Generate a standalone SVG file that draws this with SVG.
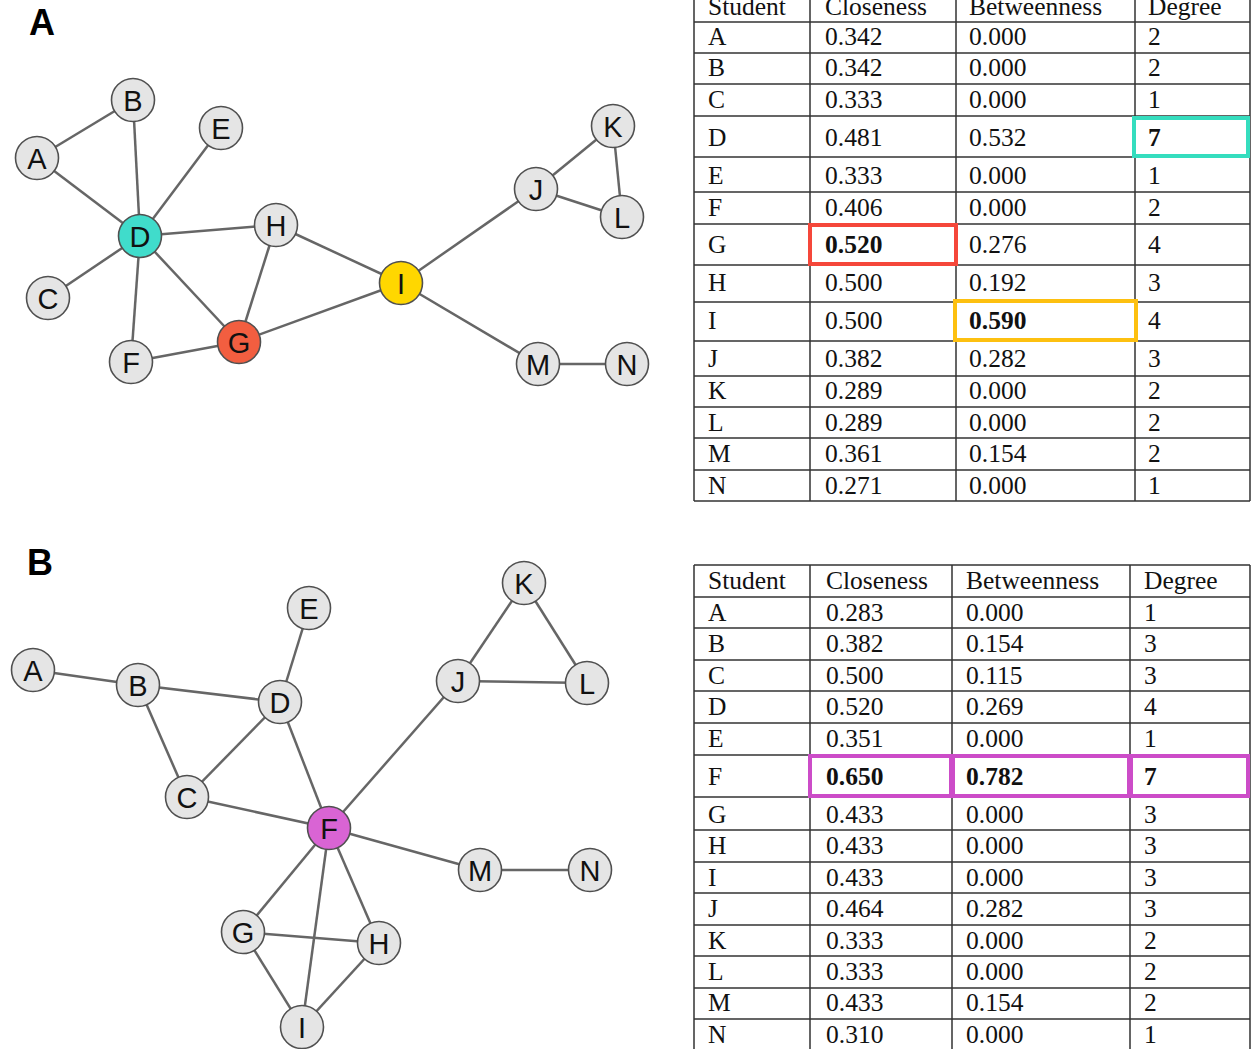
<svg xmlns="http://www.w3.org/2000/svg" width="1251" height="1049" viewBox="0 0 1251 1049">
<style>
.panel{font-family:"Liberation Sans",Arial,sans-serif;font-weight:bold;font-size:36px;fill:#000}
.edge{stroke:#666;stroke-width:2.5;fill:none}
.node circle{fill:#E5E5E5;stroke:#505050;stroke-width:1.6}
.node text{font-family:"Liberation Sans",Arial,sans-serif;font-size:29px;fill:#111;text-anchor:middle}
.grid{stroke:#333;stroke-width:1.5;fill:none}
.cell{font-family:"Liberation Serif","Times New Roman",serif;font-size:25.5px;fill:#111}
.b{font-weight:bold}
.hl{fill:none;stroke-width:4}
</style>
<rect width="1251" height="1049" fill="#fff"/>
<text class="panel" x="29" y="35">A</text>
<text class="panel" x="27" y="575">B</text>

<g id="connectors-a">
<line class="edge" x1="37" y1="158" x2="133" y2="100"/>
<line class="edge" x1="37" y1="158" x2="140" y2="236"/>
<line class="edge" x1="133" y1="100" x2="140" y2="236"/>
<line class="edge" x1="221" y1="128" x2="140" y2="236"/>
<line class="edge" x1="48" y1="298" x2="140" y2="236"/>
<line class="edge" x1="131" y1="362" x2="140" y2="236"/>
<line class="edge" x1="276" y1="225" x2="140" y2="236"/>
<line class="edge" x1="239" y1="342" x2="140" y2="236"/>
<line class="edge" x1="276" y1="225" x2="239" y2="342"/>
<line class="edge" x1="131" y1="362" x2="239" y2="342"/>
<line class="edge" x1="239" y1="342" x2="401" y2="283"/>
<line class="edge" x1="276" y1="225" x2="401" y2="283"/>
<line class="edge" x1="401" y1="283" x2="536" y2="189"/>
<line class="edge" x1="401" y1="283" x2="538" y2="364"/>
<line class="edge" x1="536" y1="189" x2="613" y2="126"/>
<line class="edge" x1="536" y1="189" x2="622" y2="217"/>
<line class="edge" x1="613" y1="126" x2="622" y2="217"/>
<line class="edge" x1="538" y1="364" x2="627" y2="364"/>
</g>

<g id="a-A" class="node"><circle cx="37" cy="158" r="21.5"/><text x="37" y="168.5">A</text></g>
<g id="a-B" class="node"><circle cx="133" cy="100" r="21.5"/><text x="133" y="110.5">B</text></g>
<g id="a-C" class="node"><circle cx="48" cy="298" r="21.5"/><text x="48" y="308.5">C</text></g>
<g id="a-D" class="node"><circle cx="140" cy="236" r="21.5" style="fill:#40DCCB"/><text x="140" y="246.5">D</text></g>
<g id="a-E" class="node"><circle cx="221" cy="128" r="21.5"/><text x="221" y="138.5">E</text></g>
<g id="a-F" class="node"><circle cx="131" cy="362" r="21.5"/><text x="131" y="372.5">F</text></g>
<g id="a-G" class="node"><circle cx="239" cy="342" r="21.5" style="fill:#F25E40"/><text x="239" y="352.5">G</text></g>
<g id="a-H" class="node"><circle cx="276" cy="225" r="21.5"/><text x="276" y="235.5">H</text></g>
<g id="a-I" class="node"><circle cx="401" cy="283" r="21.5" style="fill:#FFD700"/><text x="401" y="293.5">I</text></g>
<g id="a-J" class="node"><circle cx="536" cy="189" r="21.5"/><text x="536" y="199.5">J</text></g>
<g id="a-K" class="node"><circle cx="613" cy="126" r="21.5"/><text x="613" y="136.5">K</text></g>
<g id="a-L" class="node"><circle cx="622" cy="217" r="21.5"/><text x="622" y="227.5">L</text></g>
<g id="a-M" class="node"><circle cx="538" cy="364" r="21.5"/><text x="538" y="374.5">M</text></g>
<g id="a-N" class="node"><circle cx="627" cy="364" r="21.5"/><text x="627" y="374.5">N</text></g>

<g id="connectors-b">
<line class="edge" x1="33" y1="670" x2="138" y2="685"/>
<line class="edge" x1="138" y1="685" x2="280" y2="702"/>
<line class="edge" x1="138" y1="685" x2="187" y2="797"/>
<line class="edge" x1="187" y1="797" x2="280" y2="702"/>
<line class="edge" x1="280" y1="702" x2="309" y2="608"/>
<line class="edge" x1="280" y1="702" x2="329" y2="828"/>
<line class="edge" x1="187" y1="797" x2="329" y2="828"/>
<line class="edge" x1="329" y1="828" x2="458" y2="681"/>
<line class="edge" x1="458" y1="681" x2="524" y2="583"/>
<line class="edge" x1="458" y1="681" x2="587" y2="683"/>
<line class="edge" x1="524" y1="583" x2="587" y2="683"/>
<line class="edge" x1="329" y1="828" x2="480" y2="870"/>
<line class="edge" x1="480" y1="870" x2="590" y2="870"/>
<line class="edge" x1="329" y1="828" x2="243" y2="932"/>
<line class="edge" x1="329" y1="828" x2="379" y2="943"/>
<line class="edge" x1="329" y1="828" x2="302" y2="1027"/>
<line class="edge" x1="243" y1="932" x2="379" y2="943"/>
<line class="edge" x1="243" y1="932" x2="302" y2="1027"/>
<line class="edge" x1="379" y1="943" x2="302" y2="1027"/>
</g>

<g id="b-A" class="node"><circle cx="33" cy="670" r="21.5"/><text x="33" y="680.5">A</text></g>
<g id="b-B" class="node"><circle cx="138" cy="685" r="21.5"/><text x="138" y="695.5">B</text></g>
<g id="b-C" class="node"><circle cx="187" cy="797" r="21.5"/><text x="187" y="807.5">C</text></g>
<g id="b-D" class="node"><circle cx="280" cy="702" r="21.5"/><text x="280" y="712.5">D</text></g>
<g id="b-E" class="node"><circle cx="309" cy="608" r="21.5"/><text x="309" y="618.5">E</text></g>
<g id="b-F" class="node"><circle cx="329" cy="828" r="21.5" style="fill:#D964D4"/><text x="329" y="838.5">F</text></g>
<g id="b-G" class="node"><circle cx="243" cy="932" r="21.5"/><text x="243" y="942.5">G</text></g>
<g id="b-H" class="node"><circle cx="379" cy="943" r="21.5"/><text x="379" y="953.5">H</text></g>
<g id="b-I" class="node"><circle cx="302" cy="1027" r="21.5"/><text x="302" y="1037.5">I</text></g>
<g id="b-J" class="node"><circle cx="458" cy="681" r="21.5"/><text x="458" y="691.5">J</text></g>
<g id="b-K" class="node"><circle cx="524" cy="583" r="21.5"/><text x="524" y="593.5">K</text></g>
<g id="b-L" class="node"><circle cx="587" cy="683" r="21.5"/><text x="587" y="693.5">L</text></g>
<g id="b-M" class="node"><circle cx="480" cy="870" r="21.5"/><text x="480" y="880.5">M</text></g>
<g id="b-N" class="node"><circle cx="590" cy="870" r="21.5"/><text x="590" y="880.5">N</text></g>

<g id="table-a">
<path class="grid" d="M694,-5V501M810,-5V501M956,-5V501M1135,-5V501M1250,-5V501M694,501H1250M694,22H1250M694,53H1250M694,84H1250M694,116H1250M694,157H1250M694,192H1250M694,224H1250M694,265H1250M694,302H1250M694,341H1250M694,376H1250M694,407H1250M694,438H1250M694,470H1250"/>
<g class="cell">
<text x="708" y="15">Student</text><text x="825" y="15">Closeness</text><text x="969" y="15">Betweenness</text><text x="1148" y="15">Degree</text>
<text x="708" y="45">A</text><text x="825" y="45">0.342</text><text x="969" y="45">0.000</text><text x="1148" y="45">2</text>
<text x="708" y="76">B</text><text x="825" y="76">0.342</text><text x="969" y="76">0.000</text><text x="1148" y="76">2</text>
<text x="708" y="108">C</text><text x="825" y="108">0.333</text><text x="969" y="108">0.000</text><text x="1148" y="108">1</text>
<text x="708" y="146">D</text><text x="825" y="146">0.481</text><text x="969" y="146">0.532</text><text class="b" x="1148" y="146">7</text>
<text x="708" y="184">E</text><text x="825" y="184">0.333</text><text x="969" y="184">0.000</text><text x="1148" y="184">1</text>
<text x="708" y="216">F</text><text x="825" y="216">0.406</text><text x="969" y="216">0.000</text><text x="1148" y="216">2</text>
<text x="708" y="253">G</text><text class="b" x="825" y="253">0.520</text><text x="969" y="253">0.276</text><text x="1148" y="253">4</text>
<text x="708" y="291">H</text><text x="825" y="291">0.500</text><text x="969" y="291">0.192</text><text x="1148" y="291">3</text>
<text x="708" y="329">I</text><text x="825" y="329">0.500</text><text class="b" x="969" y="329">0.590</text><text x="1148" y="329">4</text>
<text x="708" y="367">J</text><text x="825" y="367">0.382</text><text x="969" y="367">0.282</text><text x="1148" y="367">3</text>
<text x="708" y="399">K</text><text x="825" y="399">0.289</text><text x="969" y="399">0.000</text><text x="1148" y="399">2</text>
<text x="708" y="431">L</text><text x="825" y="431">0.289</text><text x="969" y="431">0.000</text><text x="1148" y="431">2</text>
<text x="708" y="462">M</text><text x="825" y="462">0.361</text><text x="969" y="462">0.154</text><text x="1148" y="462">2</text>
<text x="708" y="494">N</text><text x="825" y="494">0.271</text><text x="969" y="494">0.000</text><text x="1148" y="494">1</text>
</g>
<rect class="hl" x="1134" y="118" width="114" height="38" stroke="#35DDBE"/>
<rect class="hl" x="810" y="225" width="146" height="39" stroke="#F5473A"/>
<rect class="hl" x="955" y="301" width="181" height="39" stroke="#FDC010"/>
</g>

<g id="table-b">
<path class="grid" d="M694,565V1055M810,565V1055M952,565V1055M1130,565V1055M1250,565V1055M694,565H1250M694,597H1250M694,628H1250M694,660H1250M694,691H1250M694,723H1250M694,755H1250M694,797H1250M694,830H1250M694,862H1250M694,893H1250M694,925H1250M694,956H1250M694,988H1250M694,1019H1250"/>
<g class="cell">
<text x="708" y="589">Student</text><text x="826" y="589">Closeness</text><text x="966" y="589">Betweenness</text><text x="1144" y="589">Degree</text>
<text x="708" y="621">A</text><text x="826" y="621">0.283</text><text x="966" y="621">0.000</text><text x="1144" y="621">1</text>
<text x="708" y="652">B</text><text x="826" y="652">0.382</text><text x="966" y="652">0.154</text><text x="1144" y="652">3</text>
<text x="708" y="684">C</text><text x="826" y="684">0.500</text><text x="966" y="684">0.115</text><text x="1144" y="684">3</text>
<text x="708" y="715">D</text><text x="826" y="715">0.520</text><text x="966" y="715">0.269</text><text x="1144" y="715">4</text>
<text x="708" y="747">E</text><text x="826" y="747">0.351</text><text x="966" y="747">0.000</text><text x="1144" y="747">1</text>
<text x="708" y="785">F</text><text class="b" x="826" y="785">0.650</text><text class="b" x="966" y="785">0.782</text><text class="b" x="1144" y="785">7</text>
<text x="708" y="823">G</text><text x="826" y="823">0.433</text><text x="966" y="823">0.000</text><text x="1144" y="823">3</text>
<text x="708" y="854">H</text><text x="826" y="854">0.433</text><text x="966" y="854">0.000</text><text x="1144" y="854">3</text>
<text x="708" y="886">I</text><text x="826" y="886">0.433</text><text x="966" y="886">0.000</text><text x="1144" y="886">3</text>
<text x="708" y="917">J</text><text x="826" y="917">0.464</text><text x="966" y="917">0.282</text><text x="1144" y="917">3</text>
<text x="708" y="949">K</text><text x="826" y="949">0.333</text><text x="966" y="949">0.000</text><text x="1144" y="949">2</text>
<text x="708" y="980">L</text><text x="826" y="980">0.333</text><text x="966" y="980">0.000</text><text x="1144" y="980">2</text>
<text x="708" y="1011">M</text><text x="826" y="1011">0.433</text><text x="966" y="1011">0.154</text><text x="1144" y="1011">2</text>
<text x="708" y="1043">N</text><text x="826" y="1043">0.310</text><text x="966" y="1043">0.000</text><text x="1144" y="1043">1</text>
</g>
<rect class="hl" x="810" y="756" width="141" height="40" stroke="#CC4CC8"/>
<rect class="hl" x="953" y="756" width="176" height="40" stroke="#CC4CC8"/>
<rect class="hl" x="1131" y="756" width="117" height="40" stroke="#CC4CC8"/>
</g>
</svg>
